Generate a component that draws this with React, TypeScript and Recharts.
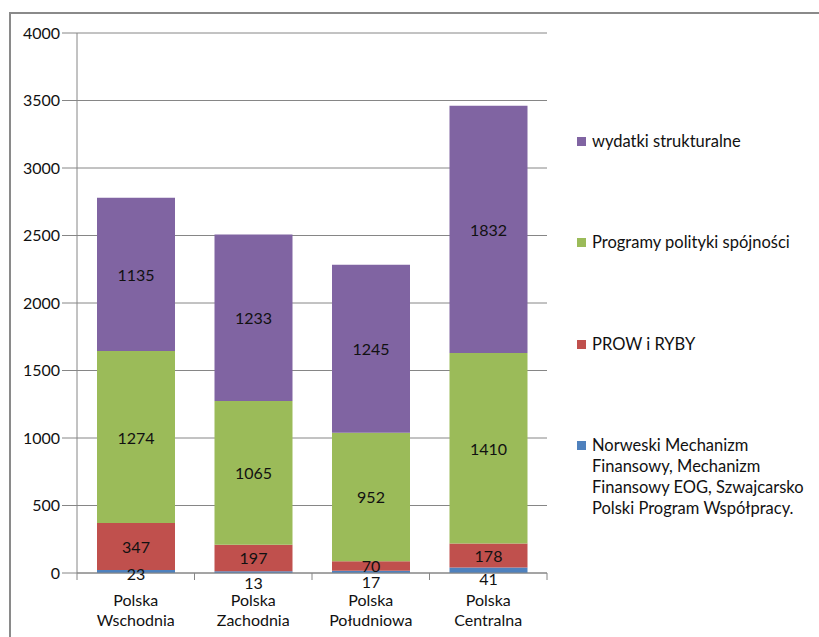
import React from 'react'
import { BarChart, Bar, XAxis, YAxis, CartesianGrid, LabelList } from 'recharts'

const REGIONS = ['Polska Wschodnia', 'Polska Zachodnia', 'Polska Południowa', 'Polska Centralna']
const NORWESKI = [23, 13, 17, 41]
const PROW = [347, 197, 70, 178]
const SPOJNOSC = [1274, 1065, 952, 1410]
const WYDATKI = [1135, 1233, 1245, 1832]
const Y_TICKS = [0, 500, 1000, 1500, 2000, 2500, 3000, 3500, 4000]

// bottom to top in the stack
const SERIES = [
  { key: 'norweski', name: 'Norweski Mechanizm Finansowy, Mechanizm Finansowy EOG, Szwajcarsko Polski Program Współpracy.', color: '#4F81BD', values: NORWESKI },
  { key: 'prow', name: 'PROW i RYBY', color: '#C0504D', values: PROW },
  { key: 'spojnosc', name: 'Programy polityki spójności', color: '#9BBB59', values: SPOJNOSC },
  { key: 'wydatki', name: 'wydatki strukturalne', color: '#8064A2', values: WYDATKI },
]

const data = REGIONS.map((region, i) => {
  const row: Record<string, string | number> = { region }
  SERIES.forEach(s => { row[s.key] = s.values[i] })
  return row
})

const FONT = 'Lato, "Open Sans", sans-serif'
const FONT_SIZE = 16
const AXIS_COLOR = '#868686'
const WIDTH = 819
const HEIGHT = 637
const MARGIN = { top: 33, right: 272, bottom: 4, left: 0 }
const Y_AXIS_W = 77
const BAND = (WIDTH - MARGIN.right - MARGIN.left - Y_AXIS_W) / REGIONS.length

// Excel nudges the tiny blue labels below the axis to keep them clear of the red ones
const BLUE_LABEL_SHIFT = [2, 10, 10, 8]

const segmentLabel = (shift?: number[]) => (props: any) => {
  const { x, y, width, height, value, index } = props
  const dy = shift ? shift[index] ?? 0 : 0
  return (
    <text
      x={Number(x) + Number(width) / 2}
      y={Number(y) + Number(height) / 2 + dy}
      textAnchor="middle"
      dominantBaseline="central"
      fontFamily={FONT}
      fontSize={FONT_SIZE}
      fill="#111"
    >
      {value}
    </text>
  )
}

const CategoryTick = (props: any) => {
  const { x, y, payload, index } = props
  const [first, second] = String(payload.value).split(' ')
  const half = BAND / 2
  return (
    <g>
      <line x1={x - half} x2={x - half} y1={y} y2={y + 7} stroke={AXIS_COLOR} />
      {index === REGIONS.length - 1 && (
        <line x1={x + half} x2={x + half} y1={y} y2={y + 7} stroke={AXIS_COLOR} />
      )}
      <text x={x} y={y + 33} textAnchor="middle" fontFamily={FONT} fontSize={FONT_SIZE} fill="#111">{first}</text>
      <text x={x} y={y + 53} textAnchor="middle" fontFamily={FONT} fontSize={FONT_SIZE} fill="#111">{second}</text>
    </g>
  )
}

const LegendBox = () => {
  const items = [...SERIES].reverse()
  const tops = [131, 232, 334, 435]
  return (
    <div style={{ position: 'absolute', left: 0, top: 0 }}>
      {items.map((s, i) => (
        <div
          key={s.key}
          style={{ position: 'absolute', left: 577, top: tops[i], width: 240, fontFamily: FONT, fontSize: 16.5, lineHeight: '21px', color: '#111' }}
        >
          <span style={{ position: 'absolute', left: 0, top: 6, width: 9, height: 9, background: s.color }} />
          <div style={{ marginLeft: 15 }}>{s.name}</div>
        </div>
      ))}
    </div>
  )
}

export default function App() {
  return (
    <div style={{ position: 'absolute', left: 0, top: 0, width: WIDTH, height: HEIGHT, overflow: 'hidden', background: '#fff' }}>
      <div style={{ position: 'absolute', left: 9, top: 12, width: 900, height: 700, border: '2px solid #8a8a8a' }} />
      <div style={{ position: 'absolute', left: 0, top: 0 }}>
        <BarChart width={WIDTH} height={HEIGHT} data={data} margin={MARGIN}>
          <CartesianGrid vertical={false} stroke={AXIS_COLOR} />
          <XAxis
            dataKey="region"
            height={60}
            axisLine={{ stroke: AXIS_COLOR }}
            tickLine={false}
            tickSize={0}
            tickMargin={0}
            interval={0}
            tick={<CategoryTick />}
          />
          <YAxis
            width={Y_AXIS_W}
            domain={[0, 4000]}
            ticks={Y_TICKS}
            interval={0}
            axisLine={{ stroke: AXIS_COLOR }}
            tickLine={{ stroke: AXIS_COLOR }}
            tickSize={15}
            tickMargin={2}
            tick={{ fill: '#111', fontSize: FONT_SIZE, fontFamily: FONT }}
          />
          {SERIES.map(s => (
            <Bar key={s.key} dataKey={s.key} name={s.name} stackId="a" fill={s.color} barSize={78} isAnimationActive={false}>
              <LabelList dataKey={s.key} content={segmentLabel(s.key === 'norweski' ? BLUE_LABEL_SHIFT : undefined)} />
            </Bar>
          ))}
        </BarChart>
      </div>
      <LegendBox />
    </div>
  )
}
